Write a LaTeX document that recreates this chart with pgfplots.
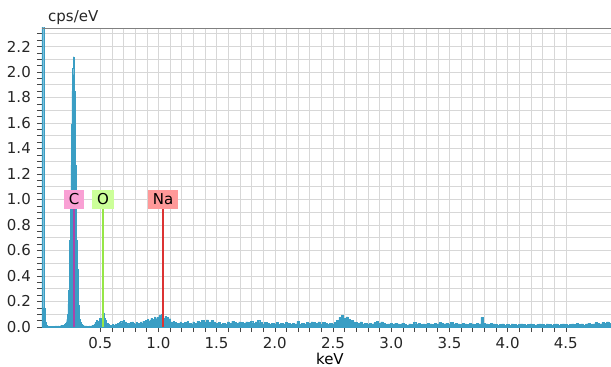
\documentclass[border=0pt]{standalone}
\usepackage{pgfplots}
\pgfplotsset{compat=1.18}
\usepackage{pgfplotstable}
\usepackage{fontspec}
\setmainfont{DejaVu Sans}
\definecolor{spec}{RGB}{58,158,196}
\definecolor{cbox}{RGB}{249,160,212}
\definecolor{obox}{RGB}{204,255,153}
\definecolor{nabox}{RGB}{255,153,153}
\definecolor{cline}{RGB}{168,70,170}
\definecolor{oline}{RGB}{150,230,70}
\definecolor{naline}{RGB}{220,50,50}
\definecolor{gridc}{RGB}{215,215,215}
\definecolor{axc}{RGB}{70,70,70}
\pgfplotstableread{
x y
0.000 3.0
0.010 3.0
0.020 0.15
0.030 0.04
0.040 0.012
0.050 0.008
0.060 0.005
0.070 0.006
0.080 0.004
0.090 0.007
0.100 0.005
0.110 0.006
0.120 0.008
0.130 0.006
0.140 0.009
0.150 0.007
0.160 0.010
0.170 0.012
0.180 0.010
0.190 0.015
0.195 0.02
0.200 0.02
0.205 0.03
0.210 0.04
0.215 0.06
0.220 0.10
0.225 0.18
0.230 0.29
0.235 0.45
0.240 0.68
0.245 0.96
0.250 1.27
0.255 1.59
0.260 1.85
0.265 2.03
0.270 2.12
0.275 1.98
0.280 1.85
0.285 1.59
0.290 1.27
0.295 0.96
0.300 0.68
0.305 0.45
0.310 0.28
0.315 0.17
0.320 0.10
0.325 0.06
0.330 0.04
0.335 0.03
0.340 0.02
0.345 0.015
0.350 0.012
0.360 0.010
0.370 0.008
0.380 0.008
0.390 0.006
0.400 0.005
0.410 0.008
0.420 0.006
0.430 0.010
0.440 0.012
0.450 0.02
0.460 0.035
0.470 0.05
0.480 0.03
0.490 0.045
0.500 0.07
0.510 0.06
0.520 0.10
0.525 0.12
0.530 0.11
0.540 0.07
0.550 0.05
0.560 0.03
0.570 0.02
0.580 0.015
0.590 0.01
0.600 0.015
0.610 0.02
0.620 0.012
0.630 0.025
0.640 0.02
0.650 0.03
0.660 0.02
0.670 0.035
0.680 0.045
0.690 0.03
0.700 0.05
0.710 0.03
0.720 0.04
0.730 0.025
0.740 0.03
0.750 0.02
0.760 0.035
0.770 0.025
0.780 0.04
0.790 0.03
0.800 0.02
0.810 0.035
0.820 0.025
0.830 0.03
0.840 0.02
0.850 0.04
0.860 0.03
0.870 0.045
0.880 0.035
0.890 0.05
0.900 0.04
0.910 0.06
0.920 0.045
0.930 0.055
0.940 0.07
0.950 0.05
0.960 0.06
0.970 0.08
0.980 0.065
0.990 0.075
1.000 0.06
1.010 0.09
1.020 0.07
1.030 0.10
1.040 0.08
1.050 0.07
1.060 0.085
1.070 0.06
1.080 0.075
1.090 0.05
1.100 0.065
1.110 0.04
1.120 0.03
1.130 0.045
1.140 0.025
1.150 0.035
1.160 0.02
1.170 0.03
1.180 0.025
1.190 0.04
1.200 0.02
1.210 0.03
1.220 0.025
1.230 0.035
1.240 0.03
1.250 0.045
1.260 0.03
1.270 0.02
1.280 0.03
1.290 0.025
1.300 0.04
1.32 0.03
1.34 0.045
1.36 0.035
1.38 0.05
1.40 0.04
1.42 0.055
1.44 0.035
1.46 0.05
1.48 0.04
1.50 0.03
1.52 0.035
1.54 0.02
1.56 0.03
1.58 0.025
1.60 0.04
1.62 0.03
1.64 0.045
1.66 0.035
1.68 0.03
1.70 0.04
1.72 0.035
1.74 0.03
1.76 0.04
1.78 0.035
1.80 0.045
1.82 0.03
1.84 0.04
1.86 0.05
1.88 0.035
1.90 0.025
1.92 0.035
1.94 0.03
1.96 0.02
1.98 0.03
2.00 0.025
2.02 0.035
2.04 0.02
2.06 0.03
2.08 0.025
2.10 0.035
2.12 0.03
2.14 0.02
2.16 0.03
2.18 0.025
2.20 0.045
2.22 0.02
2.24 0.03
2.26 0.025
2.28 0.035
2.30 0.03
2.32 0.04
2.34 0.035
2.36 0.03
2.38 0.04
2.40 0.025
2.42 0.035
2.44 0.03
2.46 0.02
2.48 0.03
2.50 0.025
2.52 0.035
2.54 0.05
2.56 0.075
2.58 0.09
2.60 0.07
2.62 0.08
2.64 0.06
2.66 0.05
2.68 0.04
2.70 0.035
2.72 0.03
2.74 0.04
2.76 0.025
2.78 0.03
2.80 0.02
2.82 0.03
2.84 0.025
2.86 0.035
2.88 0.045
2.90 0.03
2.92 0.04
2.94 0.03
2.96 0.02
2.98 0.025
3.00 0.03
3.02 0.02
3.04 0.03
3.06 0.025
3.08 0.02
3.10 0.03
3.12 0.02
3.14 0.015
3.16 0.025
3.18 0.02
3.20 0.035
3.22 0.025
3.24 0.03
3.26 0.02
3.28 0.025
3.30 0.02
3.32 0.03
3.34 0.025
3.36 0.02
3.38 0.03
3.40 0.025
3.42 0.035
3.44 0.03
3.46 0.025
3.48 0.03
3.50 0.02
3.52 0.035
3.54 0.025
3.56 0.03
3.58 0.025
3.60 0.02
3.62 0.03
3.64 0.025
3.66 0.02
3.68 0.03
3.70 0.025
3.72 0.02
3.74 0.03
3.76 0.025
3.78 0.075
3.80 0.03
3.82 0.025
3.84 0.02
3.86 0.03
3.88 0.025
3.90 0.02
3.92 0.015
3.94 0.02
3.96 0.025
3.98 0.015
4.00 0.02
4.02 0.015
4.04 0.025
4.06 0.02
4.08 0.015
4.10 0.02
4.12 0.025
4.14 0.02
4.16 0.015
4.18 0.02
4.20 0.025
4.22 0.02
4.24 0.015
4.26 0.02
4.28 0.025
4.30 0.02
4.32 0.015
4.34 0.025
4.36 0.02
4.38 0.015
4.40 0.02
4.42 0.025
4.44 0.015
4.46 0.02
4.48 0.025
4.50 0.02
4.52 0.015
4.54 0.02
4.56 0.025
4.58 0.02
4.60 0.03
4.62 0.02
4.64 0.025
4.66 0.015
4.68 0.025
4.70 0.03
4.72 0.02
4.74 0.025
4.76 0.035
4.78 0.03
4.80 0.025
4.82 0.035
4.84 0.03
4.86 0.04
4.88 0.03
4.90 0.035
}\spectrum
\begin{document}
\fontsize{15bp}{17bp}\selectfont
\begin{tikzpicture}
\begin{axis}[
  name=ax,
  scale only axis,
  width=569bp, height=299bp,
  xmin=0, xmax=4.888,
  ymin=0, ymax=2.345,
  axis lines*=left,
  axis line style={draw=axc, line width=0.8pt},
  tick align=outside,
  tick style={draw=axc, line width=0.6pt},
  major tick length=5bp, minor tick length=5bp,
  xtick={0.5,1.0,...,4.5},
  minor x tick num=4,
  ytick={0,0.2,...,2.21},
  minor ytick={0.1,0.3,...,2.31},
  extra y ticks={0.05,0.15,...,2.3},
  extra y tick labels={},
  extra y tick style={grid=none},
  grid=both,
  major grid style={draw=gridc, line width=0.5pt},
  minor grid style={draw=gridc, line width=0.5pt},
  /pgf/number format/fixed,
  /pgf/number format/fixed zerofill,
  /pgf/number format/precision=1,
  /pgf/number format/assume math mode=true,
  tick label style={font=\fontsize{15bp}{17bp}\selectfont, text=black!85},
  xticklabel style={yshift=0bp},
  yticklabel style={xshift=-1bp},
  xlabel={keV},
  xlabel style={at={(rel axis cs:0.506,0)}, anchor=north, inner sep=0pt, yshift=-25.5bp, font=\fontsize{15bp}{17bp}\selectfont},
]
\addplot[const plot mark mid, draw=spec, fill=spec, line width=0.3pt] table[x=x,y=y] {\spectrum} \closedcycle;
\addplot[color=cline, no markers, line width=1.2pt] coordinates {(0.275,0) (0.275,0.93)};
\addplot[color=oline, no markers, line width=1.2pt] coordinates {(0.524,0) (0.524,0.93)};
\addplot[color=naline, no markers, line width=1.2pt] coordinates {(1.04,0) (1.04,0.93)};
\node[fill=cbox, inner xsep=5bp, inner ysep=0bp, minimum height=19bp, font=\fontsize{15bp}{17bp}\selectfont] at (axis cs:0.275,1.0) {C};
\node[fill=obox, inner xsep=5bp, inner ysep=0bp, minimum height=19bp, font=\fontsize{15bp}{17bp}\selectfont] at (axis cs:0.524,1.0) {O};
\node[fill=nabox, inner xsep=5bp, inner ysep=0bp, minimum height=19bp, font=\fontsize{15bp}{17bp}\selectfont] at (axis cs:1.04,1.0) {Na};
\end{axis}
\draw[draw=gray, line width=0.8pt] (ax.north west) -- (ax.north east);
\node[anchor=base west, inner sep=0pt, text=black!85] at ([xshift=6bp,yshift=6bp]ax.north west) {cps/eV};
\pgfresetboundingbox
\useasboundingbox ([xshift=-42bp,yshift=-40bp]ax.south west) rectangle ([yshift=28bp]ax.north east);
\end{tikzpicture}
\end{document}
